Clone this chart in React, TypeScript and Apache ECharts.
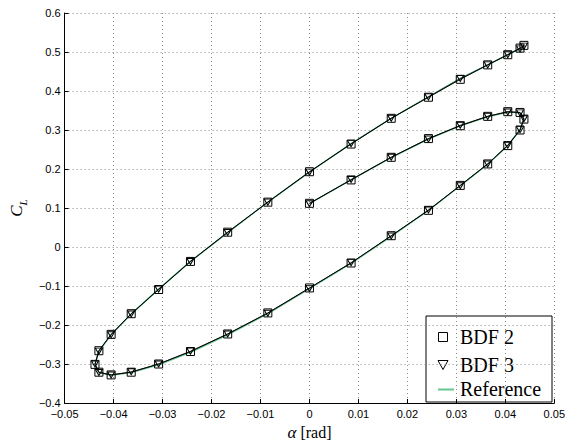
import React, { useEffect, useRef } from "react";
import * as echarts from "echarts";

// Angle of attack (rad) at each time step
const alpha = [
  0, 0.0085, 0.0167, 0.0243, 0.0308, 0.0364, 0.0405, 0.043, 0.0438,
  0.043, 0.0405, 0.0364, 0.0308, 0.0243, 0.0167, 0.0085, 0,
  -0.0085, -0.0167, -0.0243, -0.0308, -0.0364, -0.0405, -0.043, -0.0438,
  -0.043, -0.0405, -0.0364, -0.0308, -0.0243, -0.0167, -0.0085, 0,
  0.0085, 0.0167, 0.0243, 0.0308, 0.0364, 0.0405, 0.043, 0.0438,
];

// Lift coefficient, BDF 2
const clBdf2 = [
  0.112, 0.172, 0.23, 0.278, 0.311, 0.335, 0.347, 0.345, 0.328,
  0.3, 0.26, 0.213, 0.158, 0.094, 0.029, -0.041, -0.105,
  -0.169, -0.223, -0.268, -0.3, -0.321, -0.328, -0.321, -0.301,
  -0.266, -0.224, -0.171, -0.109, -0.037, 0.038, 0.115, 0.193,
  0.264, 0.33, 0.384, 0.43, 0.467, 0.493, 0.51, 0.517,
];

// Lift coefficient, BDF 3
const clBdf3 = [
  0.111, 0.173, 0.23, 0.277, 0.312, 0.335, 0.346, 0.344, 0.329,
  0.301, 0.261, 0.213, 0.157, 0.095, 0.028, -0.04, -0.106,
  -0.17, -0.223, -0.267, -0.3, -0.32, -0.328, -0.322, -0.3,
  -0.267, -0.225, -0.172, -0.108, -0.037, 0.037, 0.115, 0.192,
  0.265, 0.33, 0.385, 0.432, 0.467, 0.493, 0.508, 0.515,
];

// Reference solution
const clRef = [
  0.111, 0.172, 0.229, 0.277, 0.311, 0.334, 0.346, 0.344, 0.328,
  0.3, 0.26, 0.212, 0.157, 0.094, 0.027, -0.042, -0.107,
  -0.171, -0.225, -0.27, -0.302, -0.322, -0.329, -0.322, -0.301,
  -0.267, -0.225, -0.172, -0.108, -0.037, 0.037, 0.115, 0.192,
  0.265, 0.33, 0.385, 0.432, 0.467, 0.493, 0.509, 0.516,
];

const legendLabels = ["BDF 2", "BDF 3", "Reference"];

const fmt = (v: number) => String(+v.toFixed(3)).replace("-", "\u2212");

const TRI = "path://M0,0L10,0L5,9Z";
const SERIF = "'Liberation Serif', 'Times New Roman', serif";
const SANS = "'Liberation Sans', Arial, sans-serif";

export default function App() {
  const ref = useRef<HTMLDivElement>(null);
  useEffect(() => {
    if (!ref.current) return;
    const chart = echarts.init(ref.current, null, { renderer: "svg" });
    const pts = (ys: number[]) => alpha.map((a, i) => [a, ys[i]]);
    const gridLine = { show: true, lineStyle: { color: "#8a8a8a", type: [1, 3], width: 1 } };
    const axisLabel = {
      color: "#000",
      fontFamily: SANS,
      fontSize: 11,
      formatter: (v: number) => fmt(v),
    };
    chart.setOption({
      animation: false,
      backgroundColor: "#fff",
      grid: { left: 56, right: 11, top: 13, bottom: 40 },
      xAxis: {
        type: "value",
        min: -0.05,
        max: 0.05,
        interval: 0.01,
        axisLine: { show: true, onZero: false, lineStyle: { color: "#000", width: 1 } },
        axisTick: { show: true, inside: true, length: 4, lineStyle: { color: "#000" } },
        axisLabel: { ...axisLabel, margin: 5 },
        splitLine: gridLine,
        name: "{a|\u03b1} {r|[rad]}",
        nameLocation: "middle",
        nameGap: 21,
        nameTextStyle: {
          fontFamily: SERIF,
          fontSize: 16,
          color: "#000",
          verticalAlign: "top",
          rich: {
            a: { fontFamily: SERIF, fontStyle: "italic", fontSize: 17, color: "#000" },
            r: { fontFamily: SERIF, fontSize: 16, color: "#000" },
          },
        },
      },
      yAxis: {
        type: "value",
        min: -0.4,
        max: 0.6,
        interval: 0.1,
        axisLine: { show: true, onZero: false, lineStyle: { color: "#000", width: 1 } },
        axisTick: { show: true, inside: true, length: 4, lineStyle: { color: "#000" } },
        axisLabel: { ...axisLabel, margin: 4 },
        splitLine: gridLine,
        name: "{c|C}{s|L}",
        nameLocation: "middle",
        nameGap: 27,
        nameTextStyle: {
          color: "#000",
          fontFamily: SERIF,
          rich: {
            c: {
              fontFamily: SERIF,
              fontStyle: "italic",
              fontSize: 17,
              color: "#000",
              verticalAlign: "bottom",
              lineHeight: 20,
            },
            s: {
              fontFamily: SERIF,
              fontStyle: "italic",
              fontSize: 11,
              color: "#000",
              verticalAlign: "bottom",
              lineHeight: 14,
              padding: [0, 0, -3, 0],
            },
          },
        },
      },
      series: [
        {
          name: legendLabels[2],
          type: "line",
          data: pts(clRef),
          showSymbol: false,
          symbol: "none",
          lineStyle: { color: "#66c690", width: 1.5 },
          z: 1,
        },
        {
          name: legendLabels[0],
          type: "line",
          data: pts(clBdf2),
          symbol: "rect",
          symbolSize: 8,
          itemStyle: { color: "rgba(255,255,255,0)", borderColor: "#000", borderWidth: 1 },
          lineStyle: { color: "#000", width: 1 },
          z: 3,
        },
        {
          name: legendLabels[1],
          type: "line",
          data: pts(clBdf3),
          symbol: TRI,
          symbolSize: [7, 6],
          itemStyle: { color: "rgba(255,255,255,0)", borderColor: "#000", borderWidth: 1 },
          lineStyle: { color: "#000", width: 0.8, opacity: 0.7 },
          z: 4,
        },
      ],
      graphic: [
        {
          type: "group",
          z: 100,
          children: [
            {
              type: "rect",
              shape: { x: 426, y: 316, width: 126, height: 86 },
              style: { fill: "#fff", stroke: "#000", lineWidth: 1 },
            },
            {
              type: "rect",
              shape: { x: 438.5, y: 332.5, width: 9, height: 9 },
              style: { fill: "none", stroke: "#000", lineWidth: 1 },
            },
            {
              type: "polygon",
              shape: { points: [[438, 360.5], [448, 360.5], [443, 369.5]] },
              style: { fill: "none", stroke: "#000", lineWidth: 1 },
            },
            {
              type: "line",
              shape: { x1: 438, y1: 389.5, x2: 454, y2: 389.5 },
              style: { stroke: "#66c690", lineWidth: 2 },
            },
            ...legendLabels.map((t, i) => ({
              type: "text",
              x: 460,
              y: [337, 365, 389][i],
              style: {
                text: t,
                fill: "#000",
                font: "20px 'Liberation Serif', 'Times New Roman', serif",
                verticalAlign: "middle",
                align: "left",
              },
            })),
          ],
        },
      ],
    });
    return () => chart.dispose();
  }, []);
  return (
    <div
      ref={ref}
      style={{ position: "absolute", left: 0, top: 0, width: 568, height: 446 }}
    />
  );
}
